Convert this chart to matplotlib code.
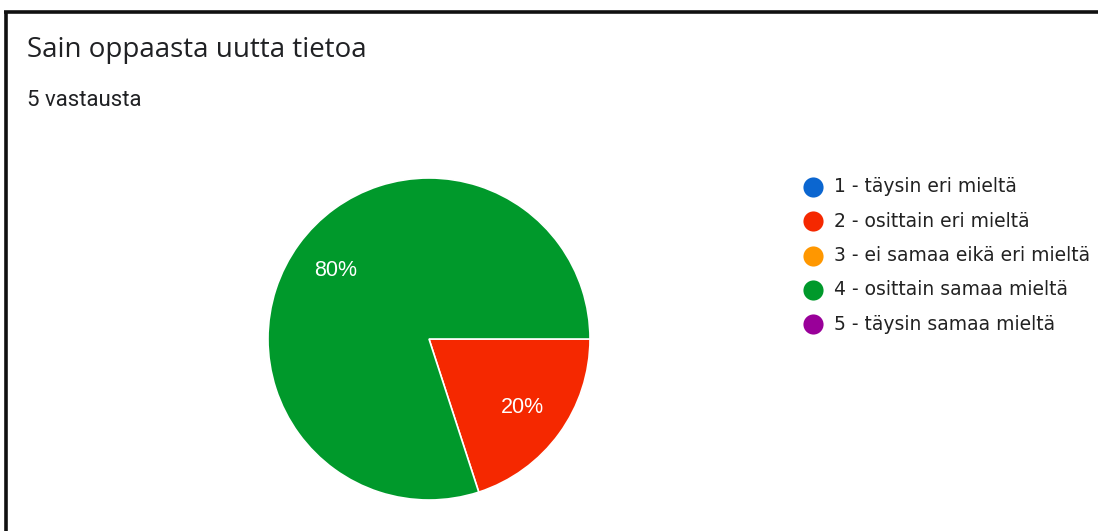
import matplotlib
matplotlib.use("Agg")
import matplotlib.pyplot as plt
from matplotlib.lines import Line2D

# Survey answers
title = "Sain oppaasta uutta tietoa"
subtitle = "5 vastausta"
labels = [
    "1 - täysin eri mieltä",
    "2 - osittain eri mieltä",
    "3 - ei samaa eikä eri mieltä",
    "4 - osittain samaa mieltä",
    "5 - täysin samaa mieltä",
]
counts = [0, 1, 0, 4, 0]
colors = ["#0b66d0", "#f52800", "#ff9700", "#00992b", "#990099"]

W, H = 1098, 531
DPI = 100
fig = plt.figure(figsize=(W / DPI, H / DPI), dpi=DPI)
fig.patch.set_facecolor("white")


def fx(px):
    return px / W


def fy(py):
    return 1 - py / H


# frame (top and left edges only)
fig.add_artist(Line2D([fx(4), 1.0], [fy(12), fy(12)], color="#111111", lw=2.6,
                      transform=fig.transFigure, solid_capstyle="butt"))
fig.add_artist(Line2D([fx(6), fx(6)], [fy(10.7), 0.0], color="#111111", lw=2.6,
                      transform=fig.transFigure, solid_capstyle="butt"))

fig.text(fx(27), fy(50), title, fontsize=20, family="Open Sans",
         color="#202124", va="center", ha="left")
fig.text(fx(27), fy(101), subtitle, fontsize=16, family="Roboto",
         color="#202124", va="center", ha="left")

# pie: only non-empty categories get a wedge
vals = [c for c in counts if c > 0]
cols = [col for c, col in zip(counts, colors) if c > 0]

cx, cy, r = 429, 339, 161
ax = fig.add_axes([fx(cx - r), fy(cy + r), 2 * r / W, 2 * r / H])
ax.pie(vals, colors=cols, startangle=0, counterclock=False,
       autopct=lambda p: f"{p:.0f}%", pctdistance=0.72,
       wedgeprops=dict(edgecolor="white", linewidth=1.2),
       textprops=dict(color="white", fontsize=15.5, family="Liberation Sans"))
ax.set_xlim(-1, 1)
ax.set_ylim(-1, 1)
ax.set_aspect("auto")
ax.axis("off")

# legend
y0, step = 187, 34.3
for i, (lab, col) in enumerate(zip(labels, colors)):
    y = y0 + i * step
    fig.add_artist(Line2D([fx(813)], [fy(y)], marker="o", markersize=14.5,
                          color=col, markeredgewidth=0,
                          transform=fig.transFigure))
    fig.text(fx(834), fy(y), lab, fontsize=13.5, family="DejaVu Sans",
             color="#222222", va="center", ha="left")

fig.savefig("out.png", dpi=DPI, facecolor="white")
